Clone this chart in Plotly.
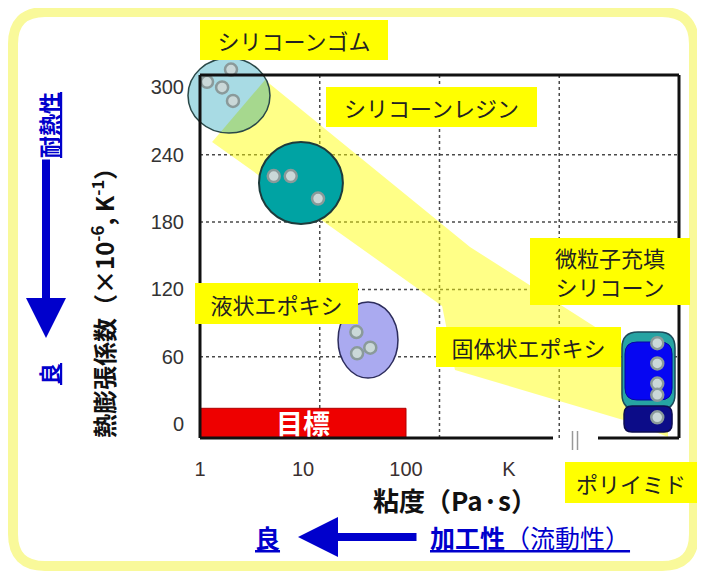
import numpy as np
import plotly.graph_objects as go

# ---------------- data ----------------
# axis ticks
x_tick_vals = [1, 10, 100, 1000]          # viscosity, Pa·s
x_tick_text = ["1", "10", "100", "K"]
y_tick_vals = [0, 60, 120, 180, 240, 300]  # CTE, x10^-6 /K
y_grid_vals = [60, 120, 180, 240]

# measured points (viscosity Pa·s, CTE x10^-6/K)
gum_visc = [1.17, 1.64, 2.09, 2.0]
gum_cte = [305, 300, 288, 316]
resin_visc = [5.2, 7.6, 14.0]
resin_cte = [221, 221, 201]
liq_epoxy_visc = [33, 33.5, 45]
liq_epoxy_cte = [82, 63, 68]
filled_visc = [27500, 27500, 27500, 27500, 27500]
filled_cte = [72, 54, 36, 26, 6]

# material regions [visc_lo, visc_hi, cte_lo, cte_hi]
gum_region = [0.765, 4.78, 259.4, 326.3]
resin_region = [3.74, 24.4, 178.3, 251.4]
liq_epoxy_region = [21.9, 83.6, 41.0, 108.8]
filled_si_region = [12500, 40900, 12.5, 82.0]
solid_epoxy_region = [13370, 38280, 21.4, 73.1]
polyimide_region = [13090, 38280, -7.1, 16.0]
target_region = [1, 100, -12.5, 14]

# trend band outline
trend_visc = [1.31, 4.28, 418, 7640, 35000, 35000, 14960, 299, 224]
trend_cte = [251.4, 306.7, 157.8, 83.8, 46.4, -11.6, 1.8, 48.1, 105.2]

labels = ["シリコーンゴム", "シリコーンレジン", "液状エポキシ",
          "微粒子充填<br>シリコーン", "固体状エポキシ", "ポリイミド"]

# ---------------- layout geometry ----------------
OFF = 8                       # page offset of the figure (body margin)
FW, FH = 705 - OFF, 576 - OFF
L, R, T, B = 185 - OFF, 26, 50 - OFF, 138
PW, PH = FW - L - R, FH - T - B
XR = [-0.1456, 4.6505]
YR = [-12.48, 333.4]


def pxp(x):
    """page pixel x -> paper"""
    return (x - OFF - L) / PW


def pyp(y):
    """page pixel y -> paper"""
    return (FH - B - (y - OFF)) / PH


lg = np.log10
FONT = "Noto Sans CJK JP"
BLUE = "#0000cc"

fig = go.Figure()
shapes = []

# outer rounded frame
fx0, fx1, fy0, fy1 = pxp(13), pxp(694), pyp(566), pyp(12)
rxp, ryp = 32 / PW, 32 / PH
frame = (f"M {fx0+rxp},{fy0} L {fx1-rxp},{fy0} Q {fx1},{fy0} {fx1},{fy0+ryp} "
         f"L {fx1},{fy1-ryp} Q {fx1},{fy1} {fx1-rxp},{fy1} L {fx0+rxp},{fy1} "
         f"Q {fx0},{fy1} {fx0},{fy1-ryp} L {fx0},{fy0+ryp} Q {fx0},{fy0} {fx0+rxp},{fy0} Z")
shapes.append(dict(type="path", path=frame, xref="paper", yref="paper",
                   line=dict(color="#f9f99a", width=10), fillcolor="rgba(0,0,0,0)",
                   layer="below"))

# trend band
tx = lg(np.array(trend_visc))
ty = np.array(trend_cte, dtype=float)
band = "M " + " L ".join(f"{a},{b}" for a, b in zip(tx, ty)) + " Z"
shapes.append(dict(type="path", path=band, xref="x", yref="y",
                   fillcolor="rgba(255,255,0,0.47)", line=dict(width=0), layer="below"))

# box extents in paper coords
bx0 = (0 - XR[0]) / (XR[1] - XR[0])
bx1 = 1.0
by0 = 0.0
by1 = pyp(75)

# grid lines
for k in (1, 2, 3):
    gx = bx0 + k * (bx1 - bx0) / 4
    shapes.append(dict(type="line", xref="paper", yref="paper", x0=gx, x1=gx, y0=by0, y1=by1,
                       line=dict(color="#4a4a4a", width=1.5, dash="dot"), layer="below"))
for gv in y_grid_vals:
    shapes.append(dict(type="line", xref="paper", yref="y", x0=bx0, x1=bx1, y0=gv, y1=gv,
                       line=dict(color="#4a4a4a", width=1.5, dash="dot"), layer="below"))


def ellipse(reg, fill, lc, lw=1.5, layer="below"):
    return dict(type="circle", xref="x", yref="y", x0=lg(reg[0]), x1=lg(reg[1]),
                y0=reg[2], y1=reg[3], fillcolor=fill, line=dict(color=lc, width=lw), layer=layer)


shapes.append(ellipse(gum_region, "#a8dbe4", "rgba(0,0,0,0)", 0))
shapes.append(ellipse(resin_region, "#00a3a3", "#1d3b3b", 2))
shapes.append(ellipse(liq_epoxy_region, "#aaaaf0", "#2c2c5c", 1.5))


def rrect(reg, fill, lc, rpx, lw=1.5):
    x0, x1 = lg(reg[0]), lg(reg[1])
    y0, y1 = reg[2], reg[3]
    rx = rpx * (XR[1] - XR[0]) / PW
    ry = rpx * (YR[1] - YR[0]) / PH
    p = (f"M {x0+rx},{y0} L {x1-rx},{y0} Q {x1},{y0} {x1},{y0+ry} L {x1},{y1-ry} "
         f"Q {x1},{y1} {x1-rx},{y1} L {x0+rx},{y1} Q {x0},{y1} {x0},{y1-ry} "
         f"L {x0},{y0+ry} Q {x0},{y0} {x0+rx},{y0} Z")
    return dict(type="path", path=p, xref="x", yref="y", fillcolor=fill,
                line=dict(color=lc, width=lw), layer="below")


shapes.append(rrect(filled_si_region, "#26a3a3", "#1c4a5a", 16))
shapes.append(rrect(polyimide_region, "#0c0c88", "#0c0c50", 8))
shapes.append(rrect(solid_epoxy_region, "#0606f2", "#0606a0", 12, 1))

# target bar
shapes.append(dict(type="rect", xref="x", yref="y", x0=lg(target_region[0]), x1=lg(target_region[1]),
                   y0=target_region[2], y1=target_region[3], fillcolor="#ee0000",
                   line=dict(color="#b00000", width=1), layer="below"))

# gum circle outline on top of the overlap tint
shapes.append(ellipse(gum_region, "rgba(0,0,0,0)", "#2a4848", 1.5, "above"))

# box lines
blk = dict(color="#111", width=3)
shapes.append(dict(type="line", xref="paper", yref="paper", x0=bx0, x1=bx0, y0=by0, y1=by1, line=blk, layer="above"))
shapes.append(dict(type="line", xref="paper", yref="paper", x0=bx0, x1=bx1, y0=by1, y1=by1, line=blk, layer="above"))
shapes.append(dict(type="line", xref="paper", yref="paper", x0=bx1, x1=bx1, y0=by0, y1=by1, line=blk, layer="above"))
shapes.append(dict(type="line", xref="paper", yref="paper", x0=bx0, x1=pxp(553), y0=by0, y1=by0, line=blk, layer="above"))
shapes.append(dict(type="line", xref="paper", yref="paper", x0=pxp(598), x1=bx1, y0=by0, y1=by0, line=blk, layer="above"))
for bxp in (572.5, 577.5):
    shapes.append(dict(type="line", xref="paper", yref="paper", x0=pxp(bxp), x1=pxp(bxp),
                       y0=pyp(431), y1=pyp(450), line=dict(color="#999", width=1.5), layer="above"))

# overlap tint of the gum circle with the trend band
gcx = (lg(gum_region[0]) + lg(gum_region[1])) / 2
gcy = (gum_region[2] + gum_region[3]) / 2
grx = (lg(gum_region[1]) - lg(gum_region[0])) / 2
gry = (gum_region[3] - gum_region[2]) / 2
t = np.linspace(0, 2 * np.pi, 721)[:-1]
ex = gcx + grx * np.cos(t)
ey = gcy + gry * np.sin(t)
p0 = np.array([tx[0], ty[0]])
p1 = np.array([tx[1], ty[1]])


def side(x, y):
    return (p1[0] - p0[0]) * (y - p0[1]) - (p1[1] - p0[1]) * (x - p0[0])


sref = np.sign(side(tx[2], ty[2]))
mask = side(ex, ey) * sref > 0
start = [i for i in range(len(mask)) if mask[i] and not mask[i - 1]][0]
ex_r, ey_r, m_r = np.roll(ex, -start), np.roll(ey, -start), np.roll(mask, -start)
n_in = int(np.argmin(m_r)) if not m_r.all() else len(m_r)
fig.add_trace(go.Scatter(x=ex_r[:n_in], y=ey_r[:n_in], mode="lines", fill="toself",
                         fillcolor="#a6d88e", line=dict(width=0), hoverinfo="skip",
                         showlegend=False))

# points
mk = dict(size=12, color="#cad8d8", line=dict(color="#8a9a9a", width=2.5))
for vx, vy in [(gum_visc, gum_cte), (resin_visc, resin_cte),
               (liq_epoxy_visc, liq_epoxy_cte), (filled_visc, filled_cte)]:
    fig.add_trace(go.Scatter(x=lg(np.array(vx)), y=vy, mode="markers", marker=mk,
                             cliponaxis=False, showlegend=False))

# ---------------- annotations ----------------
ann = []


def note(text, x, y, size, color, angle=0, xanchor="center", **kw):
    d = dict(text=text, x=pxp(x), y=pyp(y), xref="paper", yref="paper", xanchor=xanchor,
             yanchor="middle", showarrow=False, textangle=angle,
             font=dict(family=FONT, size=size, color=color))
    d.update(kw)
    return d


label_boxes = [(294, 40, 188, 40), (431.5, 107, 211, 40), (276.5, 303.5, 163, 41),
               (610, 271.5, 160, 67), (528.5, 347, 185, 40), (631, 482, 132, 41)]
for txt, (cx, cy, w, h) in zip(labels, label_boxes):
    ann.append(note(txt, cx, cy, 22, "#222", width=w, height=h, bgcolor="#ffff00",
                    borderpad=0, borderwidth=0))

# target text
ann.append(dict(text="<b>目標</b>", x=(lg(target_region[0]) + lg(target_region[1])) / 2,
                y=(target_region[2] + target_region[3]) / 2 + 1, xref="x", yref="y",
                xanchor="center", yanchor="middle",
                showarrow=False, font=dict(family=FONT, size=27, color="white")))

# axis titles
ann.append(note("<b>粘度（Pa·s）</b>", 455, 500, 26, "#111"))
ann.append(note("<b>熱膨張係数（×10<sup>-6</sup>, K<sup>-1</sup>）</b>", 103, 297, 24, "#111", angle=-90))

# left side: heat resistance
ann.append(note("<u><b>耐熱性</b></u>", 48, 125, 22, BLUE, angle=-90))
ann.append(note("<u><b>良</b></u>", 48, 374, 22, BLUE, angle=-90))
ann.append(dict(text="", x=pxp(46), y=pyp(338), xref="paper", yref="paper", showarrow=True,
                ax=0, ay=-180, arrowhead=2, arrowsize=1, arrowwidth=8, arrowcolor=BLUE))

# bottom: processability
ann.append(note("<u><b>良</b></u>", 267, 537, 25, BLUE))
ann.append(dict(text="", x=pxp(298), y=pyp(537), xref="paper", yref="paper", showarrow=True,
                ax=120, ay=0, arrowhead=2, arrowsize=1, arrowwidth=8, arrowcolor=BLUE))
ann.append(note("<u><b>加工性</b>（流動性）</u>", 428, 537, 25, BLUE, xanchor="left"))

fig.update_layout(
    width=FW, height=FH, margin=dict(l=L, r=R, t=T, b=B, autoexpand=False),
    paper_bgcolor="white", plot_bgcolor="white",
    font=dict(family=FONT),
    shapes=shapes, annotations=ann, showlegend=False,
    xaxis=dict(range=XR, showgrid=False, zeroline=False, showline=False, ticks="",
               tickvals=lg(np.array(x_tick_vals)), ticktext=x_tick_text,
               tickfont=dict(family="Liberation Sans", size=20, color="#3a3030"),
               ticklabelstandoff=17, fixedrange=True),
    yaxis=dict(range=YR, showgrid=False, zeroline=False, showline=False, ticks="",
               tickvals=y_tick_vals, tickfont=dict(family="Liberation Sans", size=20, color="#333"),
               fixedrange=True),
)

fig.write_html("out.html")
